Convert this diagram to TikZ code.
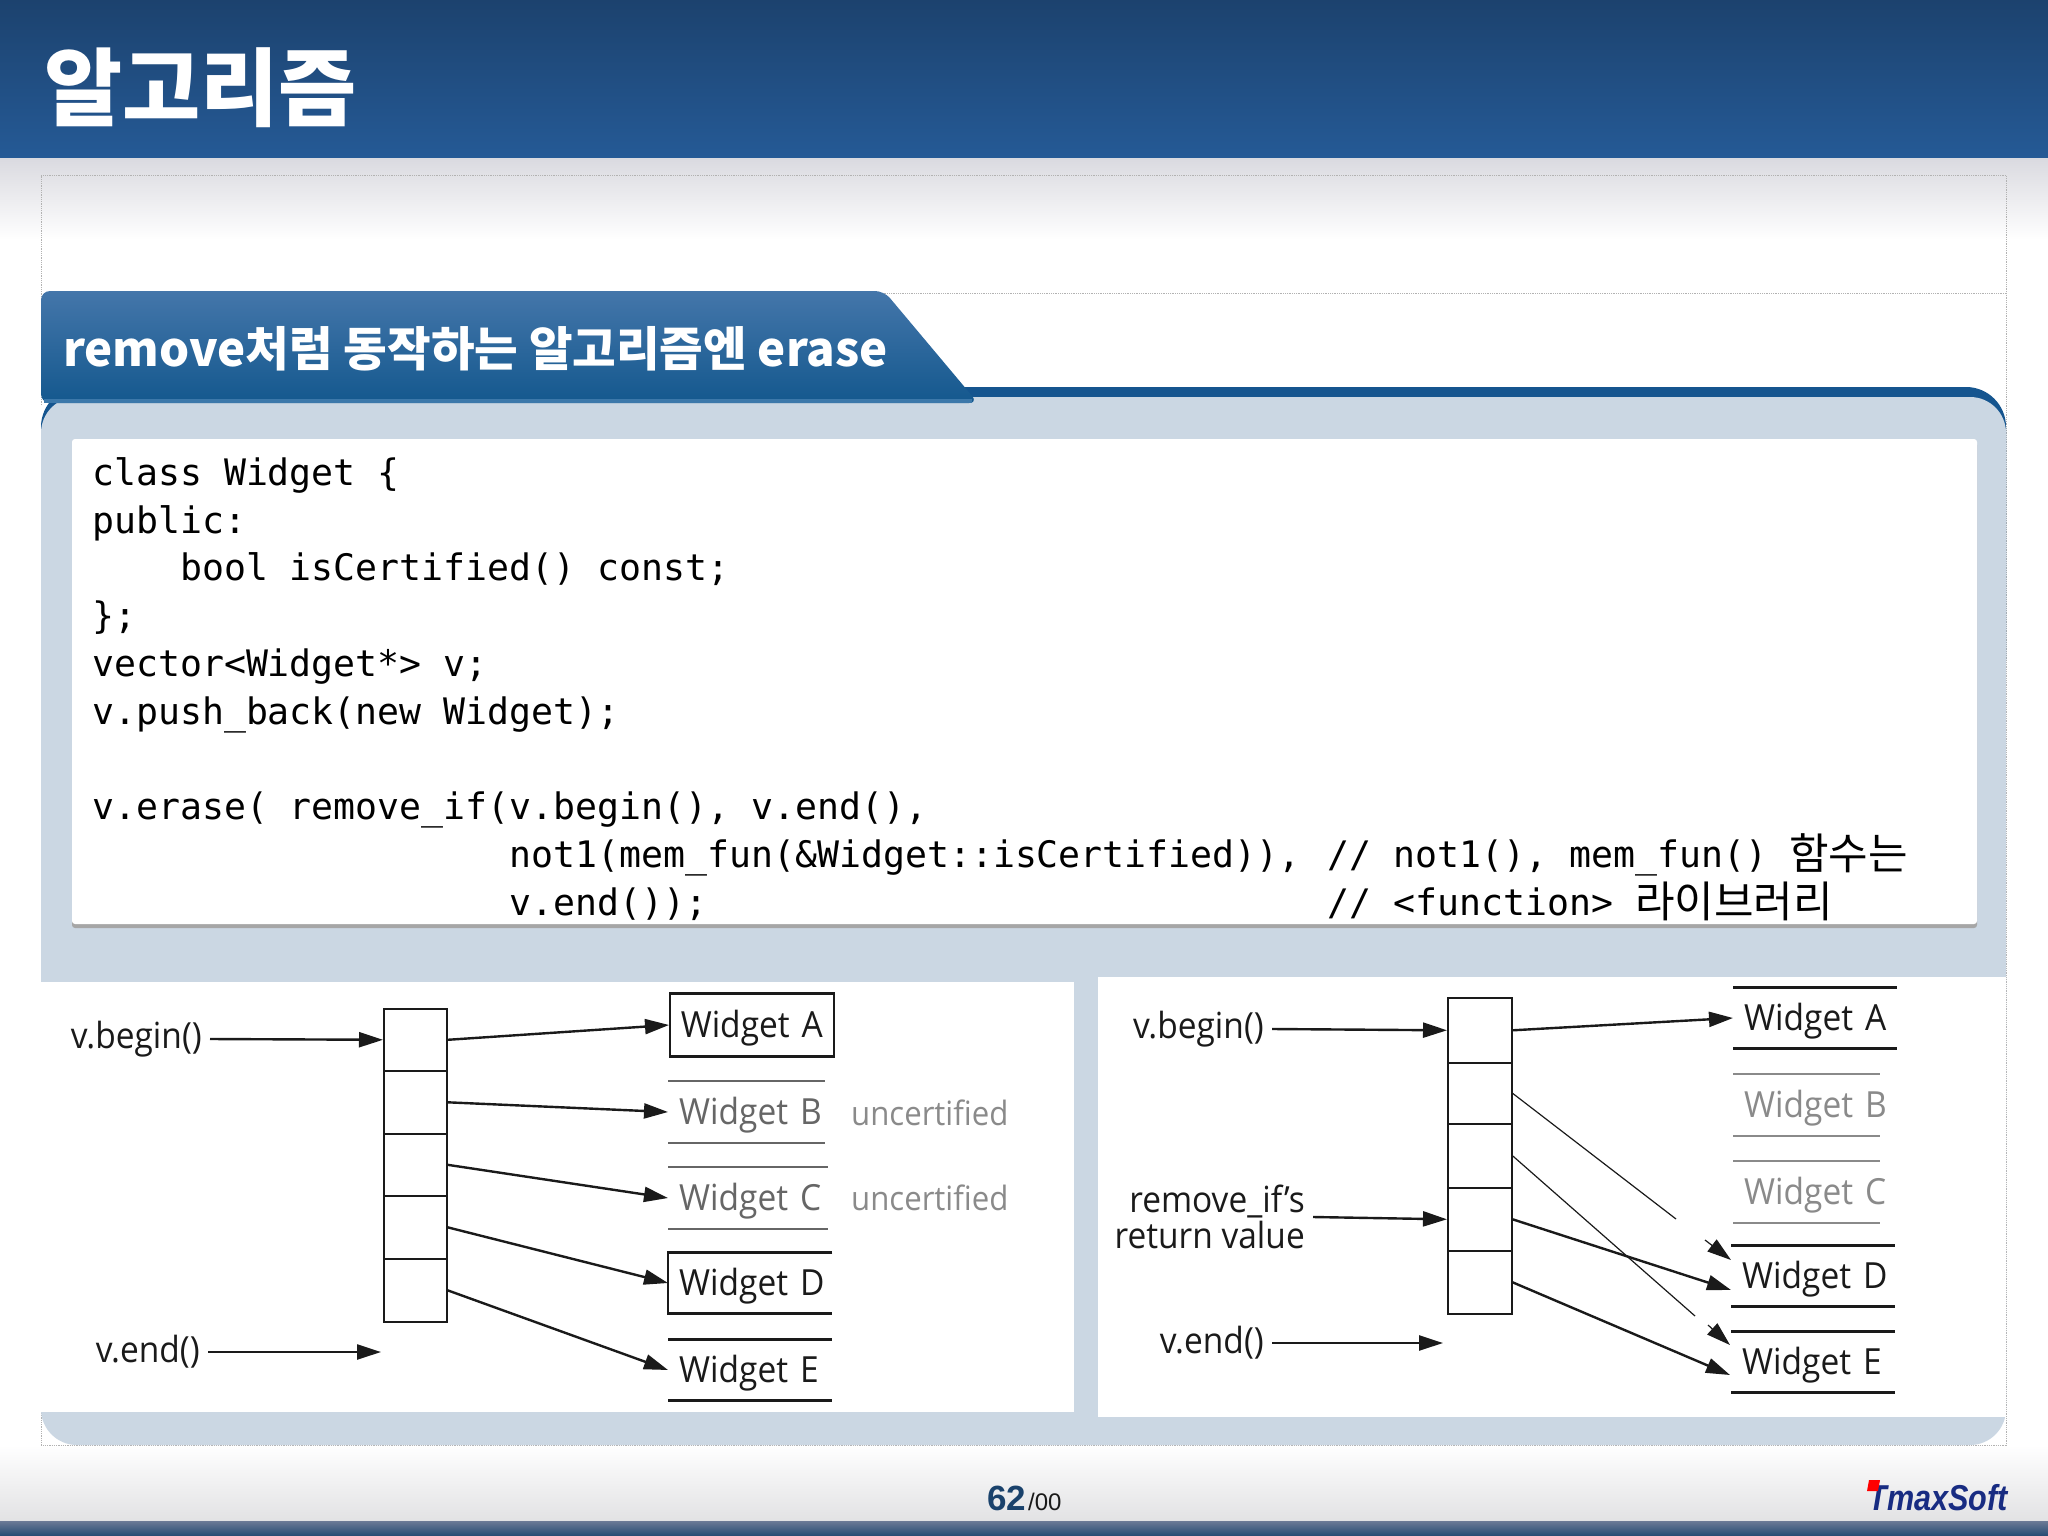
\documentclass[tikz,border=0pt]{standalone}
\usepackage{fontspec}
\usetikzlibrary{arrows.meta,calc}
\setmainfont{Open Sans}
\setmonofont{DejaVu Sans Mono}
\newfontfamily\krfont{Noto Sans CJK KR}
\newfontfamily\logofont{Liberation Sans}
\newfontfamily\diagfont[FakeStretch=0.93]{Open Sans}
\newcommand{\fs}[1]{\fontsize{#1}{#1}\selectfont}
\newcommand{\ind}[1]{\hspace*{\dimexpr #1\dimexpr 21.97pt\relax\relax}}
\definecolor{panel}{HTML}{CBD7E3}
\definecolor{stripblue}{HTML}{15558F}
\definecolor{ink}{HTML}{1A1A1A}
\definecolor{fadeA}{HTML}{666666}
\definecolor{fadeB}{HTML}{8A8A8A}
\definecolor{bandgrey}{HTML}{DADAE0}
\definecolor{footgrey}{HTML}{E2E2E4}
\definecolor{bannertop}{HTML}{1C426E}
\definecolor{bannerlow}{HTML}{255A96}
\definecolor{bartop}{HTML}{6C7A96}
\definecolor{barlow}{HTML}{244A72}
\definecolor{tabtop}{HTML}{4476AA}
\definecolor{tablow}{HTML}{14588E}
\definecolor{tabedge}{HTML}{3C78AA}
\definecolor{pagenumc}{HTML}{1A426C}
\definecolor{logoc}{HTML}{182C82}
\tikzset{
  x=1pt,y=-1pt,
  codeline/.style={anchor=base west,inner sep=0pt,text=black,font=\ttfamily\fs{36.5}},
  cellbox/.style={draw=ink,line width=1.6pt,rectangle,inner sep=0pt,minimum width=#1,anchor=north west},
  widgetbox/.style={rectangle,inner xsep=11pt,inner ysep=0pt,minimum height=61pt,text width=142pt,minimum width=164pt,text height=27pt,text depth=3pt,anchor=west,align=left,font=\diagfont\fs{36},text=ink},
  difftext/.style={rectangle,inner xsep=8pt,inner ysep=0pt,font=\diagfont\fs{36},text=ink},
  edgeline/.style={draw=ink,line width=2.8pt},
  ptr/.style={draw=ink,line width=2.4pt,-{Triangle[length=24pt,width=15pt]}},
  thinptr/.style={draw=ink,line width=1.2pt},
  headonly/.style={draw=ink,line width=1.2pt,-{Triangle[length=24pt,width=15pt]}},
  dotbox/.style={draw=gray!60,line width=.8pt,densely dotted},
}
\begin{document}
\begin{tikzpicture}
\useasboundingbox (0,0) rectangle (2048,1536);
% page
\fill[white] (0,0) rectangle (2048,1536);
\shade[top color=bandgrey,bottom color=white] (0,158) rectangle (2048,240);
\shade[top color=white,bottom color=footgrey] (0,1445) rectangle (2048,1521);
% banner and footer bar
\shade[top color=bannertop,bottom color=bannerlow] (0,0) rectangle (2048,158);
\shade[top color=bartop,bottom color=barlow] (0,1521) rectangle (2048,1536);
% dotted frame
\draw[dotbox] (41,405) -- (41,175) -- (2006,175) -- (2006,1445) -- (41,1445) -- (41,1400);
\draw[dotbox] (880,293) -- (2006,293);
% panel
\fill[stripblue,rounded corners=40pt] (41,700) -- (41,387) -- (2006,387) -- (2006,700) -- cycle;
\fill[panel,rounded corners=36pt] (41,1445) -- (41,397) -- (2006,397) -- (2006,1445) -- cycle;
% tab
\shade[top color=tabtop,bottom color=tablow,rounded corners=9pt]
  (41,403) -- (41,291) -- (884,291) -- (978,403) -- cycle;
\fill[tabedge] (44,399) rectangle (972,403);
\node[anchor=base west,inner sep=0pt,text=white,font=\krfont\bfseries\fs{47.4}] (tabtitle) at (63,366) {remove처럼 동작하는 알고리즘엔 erase};
\node[anchor=base west,inner sep=0pt,text=white,font=\krfont\bfseries\fs{85}] (maintitle) at (44,120) {알고리즘};
% code box
\fill[gray!70,rounded corners=3pt] (72,442) rectangle (1977,928);
\fill[white,rounded corners=3pt] (72,439) rectangle (1977,924);
\node[codeline] (k1) at (92,485) {class Widget \{};
\node[codeline] (k2) at (92,533) {public:};
\node[codeline] (k3) at (92,580) {\ind{4}bool isCertified() const;};
\node[codeline] (k4) at (92,628) {\};};
\node[codeline] (k5) at (92,676) {vector<Widget*> v;};
\node[codeline] (k6) at (92,724) {v.push\_back(new Widget);};
\node[codeline] (k7) at (92,819) {v.erase( remove\_if(v.begin(), v.end(),};
\node[codeline] (k8) at (92,867) {\ind{19}not1(mem\_fun(\&Widget::isCertified)),\hspace{5pt} // not1(), mem\_fun() \raisebox{-2pt}{\krfont\fs{43}함수는}};
\node[codeline] (k9) at (92,915) {\ind{19}v.end());\ind{28}\hspace{5pt}// <function> \raisebox{-2pt}{\krfont\fs{43}라이브러리}};
% picture backgrounds
\fill[white] (41,982) rectangle (1074,1412);
\fill[white] (1098,977) rectangle (2006,1417);
% ---------- left diagram
\node[cellbox=63pt,minimum height=62pt] (la) at (383,1008) {};
\node[cellbox=63pt,minimum height=63pt] (lb) at (383,1070) {};
\node[cellbox=63pt,minimum height=62pt] (lc) at (383,1133) {};
\node[cellbox=63pt,minimum height=63pt] (ld) at (383,1195) {};
\node[cellbox=63pt,minimum height=63pt] (le) at (383,1258) {};
\node[widgetbox,draw=ink,line width=1.5pt] (wa) at (669,1025) {Widget~A};
\node[widgetbox,text=fadeA] (wb) at (668,1112) {Widget~B};
\node[widgetbox,text=fadeA] (wc) at (668,1198) {Widget~C};
\node[widgetbox] (wd) at (668,1283) {Widget~D};
\node[widgetbox] (we) at (668,1370) {Widget~E};
\draw[edgeline] (wa.north west) -- (wa.north east) (wa.south west) -- (wa.south east);
\draw[edgeline,draw=fadeA,line width=2pt] (wb.north west) -- +(157,0) (wb.south west) -- +(157,0);
\draw[edgeline,draw=fadeA,line width=2pt] (wc.north west) -- +(160,0) (wc.south west) -- +(160,0);
\draw[edgeline] (wd.north east) -- (wd.north west) -- (wd.south west) -- (wd.south east);
\draw[edgeline] (we.north west) -- (we.north east) (we.south west) -- (we.south east);
\node[difftext,anchor=west,inner xsep=0pt,text=fadeB,font=\diagfont\fs{33.5}] (ub) at (851,1113) {uncertified};
\node[difftext,anchor=west,inner xsep=0pt,text=fadeB,font=\diagfont\fs{33.5}] (uc) at (851,1198) {uncertified};
\node[difftext,anchor=east] (lbegin) at (210,1039) {v.begin()};
\node[difftext,anchor=east] (lend) at (208,1352) {v.end()};
\coordinate (lendtip) at (381,1352);
\draw[ptr] (lbegin.east) -- (la.west);
\draw[ptr] (lend.east) -- (lendtip);
\draw[ptr] (la.east) -- (wa.west);
\draw[ptr] (lb.east) -- (wb.west);
\draw[ptr] (lc.east) -- (wc.west);
\draw[ptr] (ld.east) -- (wd.west);
\draw[ptr] (le.east) -- (we.west);
% ---------- right diagram
\node[cellbox=64pt,minimum height=65pt] (ra) at (1447,997) {};
\node[cellbox=64pt,minimum height=61pt] (rb) at (1447,1062) {};
\node[cellbox=64pt,minimum height=64pt] (rc) at (1447,1123) {};
\node[cellbox=64pt,minimum height=63pt] (rd) at (1447,1187) {};
\node[cellbox=64pt,minimum height=63pt] (re) at (1447,1250) {};
\node[widgetbox] (xa) at (1733,1018) {Widget~A};
\node[widgetbox,text=fadeB] (xb) at (1733,1105) {Widget~B};
\node[widgetbox,text=fadeB] (xc) at (1733,1192) {Widget~C};
\node[widgetbox] (xd) at (1731,1276) {Widget~D};
\node[widgetbox] (xe) at (1731,1362) {Widget~E};
\draw[edgeline] (xa.north west) -- (xa.north east) (xa.south west) -- (xa.south east);
\draw[edgeline,draw=fadeB,line width=2pt] (xb.north west) -- +(147,0) (xb.south west) -- +(147,0);
\draw[edgeline,draw=fadeB,line width=2pt] (xc.north west) -- +(147,0) (xc.south west) -- +(147,0);
\draw[edgeline] (xd.north west) -- (xd.north east) (xd.south west) -- (xd.south east);
\draw[edgeline] (xe.north west) -- (xe.north east) (xe.south west) -- (xe.south east);
\node[difftext,anchor=east] (rbegin) at (1272,1029) {v.begin()};
\node[difftext,anchor=east,align=right,font=\diagfont\fs{36},text=ink] (rret) at (1313,1217) {remove\_if’s\\[0pt]return value};
\node[difftext,anchor=east] (rend) at (1272,1343) {v.end()};
\coordinate (rendtip) at (1443,1343);
\coordinate (xdtop) at (1731,1260);
\coordinate (xdlow) at (1731,1290);
\coordinate (xetop) at (1730,1345);
\coordinate (xelow) at (1730,1375);
\coordinate (gapa) at (1676,1219);
\coordinate (gapb) at (1705,1240);
\coordinate (gapc) at (1695,1316);
\coordinate (gapd) at (1708,1325);
\draw[ptr] (rbegin.east) -- (ra.west);
\draw[ptr] (rret.east) -- (rd.west);
\draw[ptr] (rend.east) -- (rendtip);
\draw[ptr] (ra.east) -- (xa.west);
\draw[thinptr] (rb.east) -- (gapa);
\draw[headonly] (gapb) -- (xdtop);
\draw[thinptr] (rc.east) -- (gapc);
\draw[headonly] (gapd) -- (xetop);
\draw[ptr] (rd.east) -- (xdlow);
\draw[ptr] (re.east) -- (xelow);
% ---------- footer
\node[anchor=base west,inner sep=0pt,text=pagenumc,font=\logofont\bfseries\fs{35}] (pagenum) at (987,1510) {62};
\node[anchor=base west,inner sep=0pt,text=ink,font=\logofont\fs{24}] (pagetotal) at (1028,1510) {/00};
\node[anchor=base east,inner sep=0pt,xscale=.85,transform shape,text=logoc,font=\logofont\bfseries\itshape\fs{36}] (logo) at (2008,1510) {TmaxSoft};
\fill[red] (1869,1480) -- (1880,1480) -- (1878,1491) -- (1867,1491) -- cycle;
\end{tikzpicture}
\end{document}
